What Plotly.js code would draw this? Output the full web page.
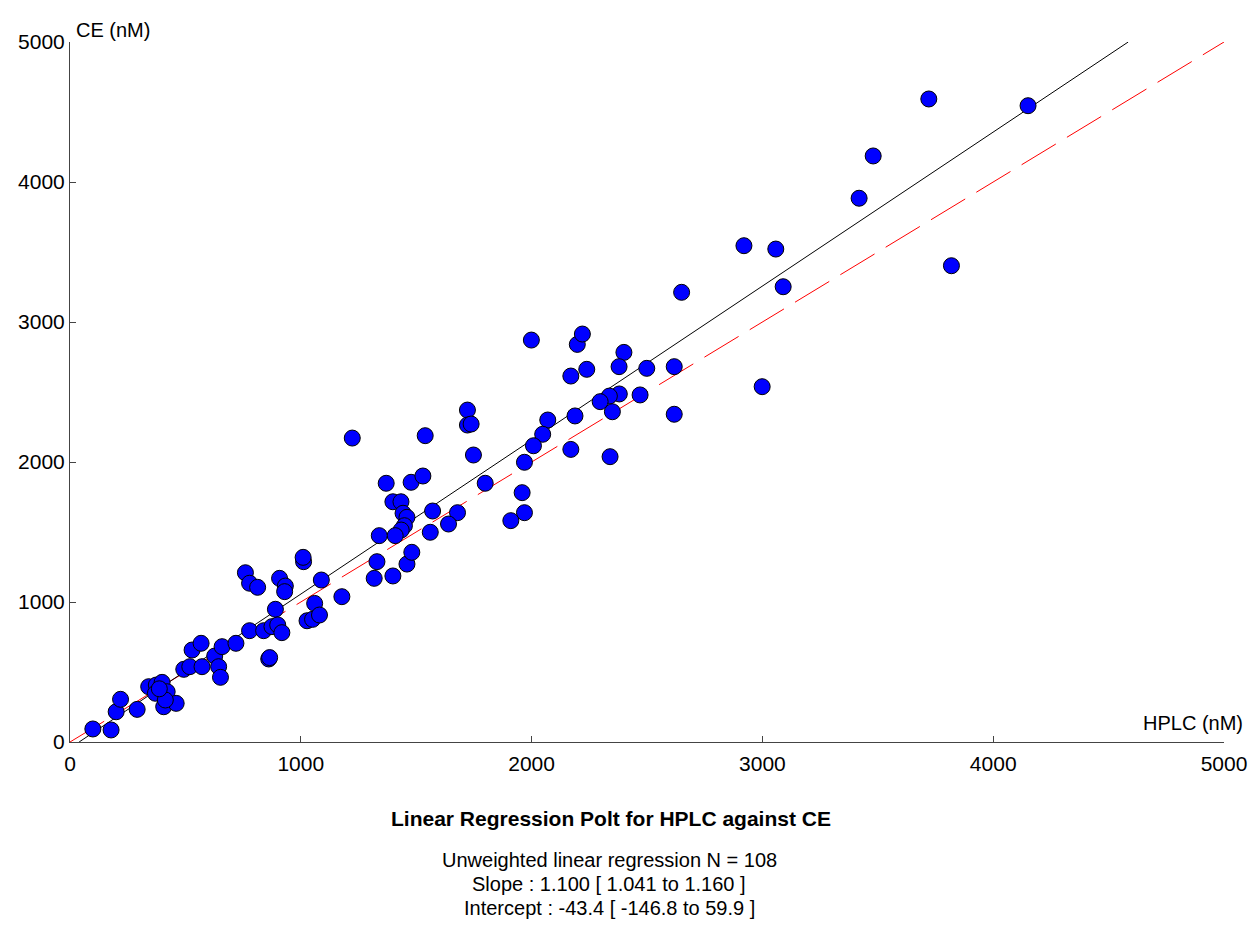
<!DOCTYPE html>
<html>
<head>
<meta charset="utf-8">
<script src="https://cdn.plot.ly/plotly-3.0.1.min.js"></script>
<style>html,body{margin:0;padding:0;background:#fff;}#chart{width:1250px;height:932px;}</style>
</head>
<body>
<div id="chart"></div>
<script>
// HPLC (x) vs CE (y), nM
const hplc = [99,178,200,219,291,341,374,399,370,421,406,460,413,493,519,572,529,568,627,644,652,659,719,
  760,778,813,908,933,930,1012,1010,1089,1178,1060,1027,1051,1081,890,778,839,875,900,918,861,865,
  1370,1478,1529,1399,1434,1443,1460,1449,1435,1409,1340,1571,1561,1679,1640,1799,1330,1318,1399,1460,1481,
  1722,1722,1738,1539,1748,1223,1959,1969,1910,
  1999,2198,2220,2170,2239,2400,2379,2499,2618,2618,2470,2380,2337,2297,2350,2188,2070,2048,2008,1969,2170,2340,
  3721,4151,3480,3419,3819,2920,3058,3090,2650,2999,387];
const ce = [93,86,216,305,233,395,407,426,348,359,252,276,300,519,538,538,657,705,614,538,462,681,705,
  1209,1134,1105,1169,1114,1074,1288,1319,1157,1038,990,866,876,907,948,795,795,824,836,781,593,603,
  1848,1855,1900,1716,1716,1634,1605,1545,1514,1474,1474,1650,1498,1638,1557,1848,1288,1169,1186,1271,1355,
  2371,2264,2271,2188,2050,2171,1781,1638,1581,
  2871,2840,2914,2614,2662,2783,2681,2669,2681,2341,2479,2486,2471,2431,2359,2329,2300,2198,2116,1998,2090,2038,
  4593,4545,4186,3884,3402,3545,3521,3252,3212,2538,380];
const slope = 1.100;
const intercept = -43.4;
const axisMax = 5000;
const tickVals = [0,1000,2000,3000,4000,5000];
const titleText = "Linear Regression Polt for HPLC against CE";
const statLines = [
  "Unweighted linear regression N = 108",
  "Slope : 1.100 [ 1.041 to 1.160 ]",
  "Intercept : -43.4 [ -146.8 to 59.9 ]"
];

const xStart = -intercept / slope;
const xEnd = (axisMax - intercept) / slope;
const regX = [xStart, xEnd];
const regY = regX.map(v => slope * v + intercept);
const idX = [0, axisMax];

const font = "Liberation Sans, Arial, sans-serif";

const traces = [
  {x: idX, y: idX, type: 'scatter', mode: 'lines', line: {color: '#ff0000', width: 1, dash: '40px,13px'}, hoverinfo: 'skip'},
  {x: regX, y: regY, type: 'scatter', mode: 'lines', line: {color: '#000000', width: 1}, hoverinfo: 'skip'},
  {x: hplc, y: ce, type: 'scatter', mode: 'markers', cliponaxis: false,
   marker: {size: 16, color: '#0000ff', line: {color: '#000000', width: 1}}}
];

const pyToPaper = p => (742 - p) / 700;
const pxToPaper = p => (p - 69.5) / 1154.5;

const annotations = [
  {text: "CE (nM)", xref: 'paper', yref: 'paper', x: pxToPaper(74), y: pyToPaper(30), xanchor: 'left', yanchor: 'middle', showarrow: false, font: {family: font, size: 20, color: '#000'}},
  {text: "HPLC (nM)", xref: 'paper', yref: 'paper', x: pxToPaper(1245), y: pyToPaper(723), xanchor: 'right', yanchor: 'middle', showarrow: false, font: {family: font, size: 20, color: '#000'}},
  {text: "<b>" + titleText + "</b>", xref: 'paper', yref: 'paper', x: pxToPaper(611), y: pyToPaper(818), xanchor: 'center', yanchor: 'middle', showarrow: false, font: {family: font, size: 21, color: '#000'}}
];
statLines.forEach((t, i) => {
  annotations.push({text: t, xref: 'paper', yref: 'paper', x: pxToPaper(609), y: pyToPaper(860 + 24 * i), xanchor: 'center', yanchor: 'middle', showarrow: false, font: {family: font, size: 20, color: '#000'}});
});

const layout = {
  width: 1250, height: 932,
  margin: {l: 69.5, r: 26, t: 42, b: 190, pad: 0},
  paper_bgcolor: '#fff', plot_bgcolor: '#fff',
  showlegend: false,
  font: {family: font, size: 20, color: '#000'},
  xaxis: {range: [0, axisMax], tickvals: tickVals, ticktext: tickVals.map(String), ticks: 'inside', ticklen: 6, tickcolor: '#444',
    showgrid: false, zeroline: false, showline: true, linecolor: '#444', linewidth: 1, mirror: false, ticklabelstandoff: 3,
    tickfont: {family: font, size: 21, color: '#000'}, fixedrange: true},
  yaxis: {range: [0, axisMax], tickvals: tickVals, ticktext: tickVals.map(String), ticks: 'inside', ticklen: 6, tickcolor: '#444',
    showgrid: false, zeroline: false, showline: true, linecolor: '#444', linewidth: 1, mirror: false,
    tickfont: {family: font, size: 21, color: '#000'}, fixedrange: true},
  annotations: annotations
};

Plotly.newPlot('chart', traces, layout, {displayModeBar: false, staticPlot: true});
</script>
</body>
</html>
